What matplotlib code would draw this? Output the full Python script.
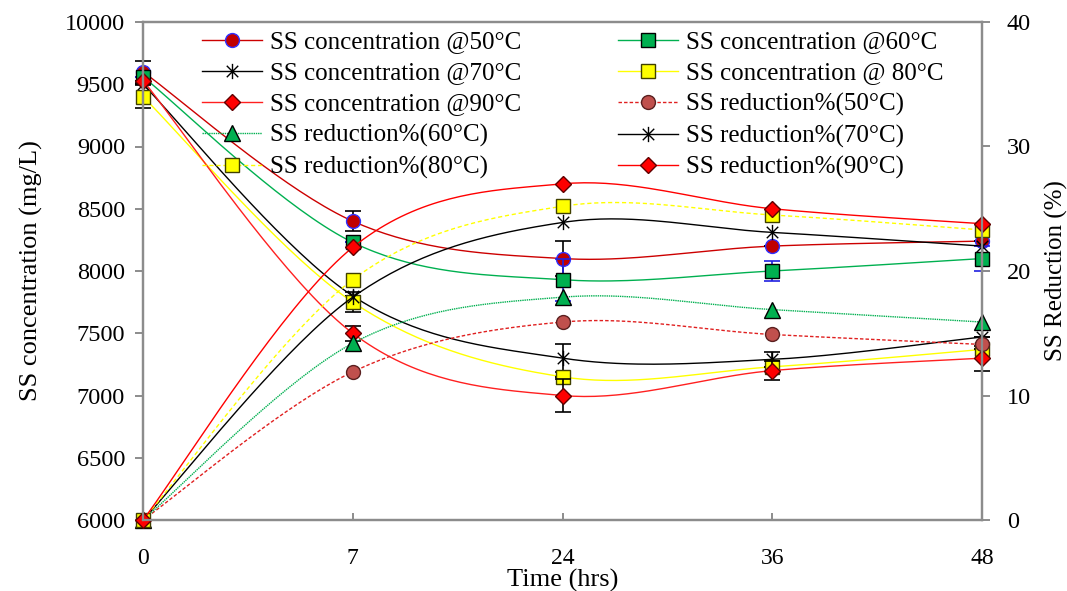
import numpy as np
import matplotlib
matplotlib.use('Agg')
import matplotlib.pyplot as plt
from matplotlib.path import Path
from matplotlib.lines import Line2D

plt.rcParams['font.family'] = ['Liberation Serif', 'DejaVu Serif']

# sampling times (plotted as evenly spaced categories)
time_labels = ['0', '7', '24', '36', '48']

# SS concentration (mg/L), left axis
conc_50 = [9600, 8400, 8100, 8200, 8240]
conc_60 = [9560, 8230, 7930, 8000, 8100]
conc_70 = [9500, 7800, 7300, 7290, 7470]
conc_80 = [9400, 7750, 7150, 7230, 7370]
conc_90 = [9530, 7500, 7000, 7200, 7300]

# error bars on the concentration series
err_50 = [90, 80, 140, 0, 0]
err_60 = [0, 0, 170, 80, 100]
err_70 = [0, 0, 115, 60, 0]
err_80 = [90, 80, 0, 0, 0]
err_90 = [0, 60, 130, 75, 100]

# SS reduction (%), right axis
red_50 = [0, 11.9, 15.9, 14.9, 14.1]
red_60 = [0, 14.2, 17.9, 16.9, 15.9]
red_70 = [0, 17.9, 23.9, 23.1, 22.0]
red_80 = [0, 19.3, 25.2, 24.5, 23.3]
red_90 = [0, 21.9, 27.0, 25.0, 23.8]


def smooth(y, n=40):
    # excel-like smoothed line (bezier through the points)
    y = np.asarray(y, float)
    x = np.arange(len(y), dtype=float)
    pts = np.column_stack([x, y])
    ext = np.vstack([pts[:1], pts, pts[-1:]])
    t = np.linspace(0, 1, n)[:, None]
    out = []
    for i in range(len(pts) - 1):
        p0 = pts[i]
        p3 = pts[i + 1]
        p1 = p0 + (ext[i + 2] - ext[i]) / 6.0
        p2 = p3 - (ext[i + 3] - ext[i + 1]) / 6.0
        seg = ((1 - t) ** 3) * p0 + 3 * ((1 - t) ** 2) * t * p1 + 3 * (1 - t) * t ** 2 * p2 + t ** 3 * p3
        out.append(seg if i == 0 else seg[1:])
    out = np.vstack(out)
    return out[:, 0], out[:, 1]


star = Path([(0, -1), (0, 1), (-0.75, -0.75), (0.75, 0.75), (-0.75, 0.75), (0.75, -0.75)],
            [Path.MOVETO, Path.LINETO, Path.MOVETO, Path.LINETO, Path.MOVETO, Path.LINETO])

fig = plt.figure(figsize=(10.67, 5.91), dpi=100)
ax = fig.add_axes([143 / 1067, 1 - 520 / 591, (982 - 143) / 1067, (520 - 22) / 591])
ax2 = ax.twinx()

xs = np.arange(len(time_labels))

conc_series = [
    ('SS concentration @50°C', conc_50, err_50, dict(color='#CC0000', ls='-', marker='o', mfc='#C00000', mec='#3030FF', ms=10), 'black'),
    ('SS concentration @60°C', conc_60, err_60, dict(color='#00B050', ls='-', marker='s', mfc='#00B050', mec='black', ms=10), '#2020E0'),
    ('SS concentration @70°C', conc_70, err_70, dict(color='black', ls='-', marker=star, mfc='none', mec='black', ms=11), 'black'),
    ('SS concentration @ 80°C', conc_80, err_80, dict(color='#FFFF00', ls='-', marker='s', mfc='#FFFF00', mec='#404000', ms=10), 'black'),
    ('SS concentration @90°C', conc_90, err_90, dict(color='#FF2020', ls='-', marker='D', mfc='#FF0000', mec='#600000', ms=8), 'black'),
]

red_series = [
    ('SS reduction%(50°C)', red_50, dict(color='#E02020', ls=(0, (2.5, 1.5)), marker='o', mfc='#C0504D', mec='#5a2020', ms=10)),
    ('SS reduction%(60°C)', red_60, dict(color='#00B050', ls=(0, (1, 0.6)), marker='^', mfc='#00B050', mec='black', ms=11)),
    ('SS reduction%(70°C)', red_70, dict(color='black', ls='-', marker=star, mfc='none', mec='black', ms=11)),
    ('SS reduction%(80°C)', red_80, dict(color='#FFFF00', ls=(0, (3, 2)), marker='s', mfc='#FFFF00', mec='#404000', ms=10)),
    ('SS reduction%(90°C)', red_90, dict(color='#FF0000', ls='-', marker='D', mfc='#FF0000', mec='#600000', ms=8)),
]

handles = {}
for label, vals, err, st, ecol in conc_series:
    sx, sy = smooth(vals)
    ax.plot(sx, sy, color=st['color'], ls=st['ls'], lw=1.0, clip_on=False)
    ax.errorbar(xs, vals, yerr=err, fmt='none', ecolor=ecol, elinewidth=1.2, capsize=6, capthick=1.2, clip_on=False)
    ax.plot(xs, vals, ls='none', marker=st['marker'], mfc=st['mfc'], mec=st['mec'], ms=st['ms'], mew=1, clip_on=False)
    handles[label] = Line2D([], [], lw=1.0, **st)

for label, vals, st in red_series:
    sx, sy = smooth(vals)
    ax2.plot(sx, sy, color=st['color'], ls=st['ls'], lw=1.0, clip_on=False)
    ax2.plot(xs, vals, ls='none', marker=st['marker'], mfc=st['mfc'], mec=st['mec'], ms=st['ms'], mew=1, clip_on=False)
    handles[label] = Line2D([], [], lw=1.0, **st)

ax.set_xlim(0, len(time_labels) - 1)
ax.set_ylim(6000, 10000)
ax.set_yticks(np.arange(6000, 10001, 500))
ax2.set_ylim(0, 40)
ax2.set_yticks([0, 10, 20, 30, 40])
ax.set_xticks(xs)
ax.set_xticklabels(time_labels)

grey = '#8c8c8c'
for a in (ax, ax2):
    for sp in a.spines.values():
        sp.set_color(grey)
        sp.set_linewidth(1.6)
ax.tick_params(axis='x', direction='in', length=5, width=1.4, color=grey, pad=20, labelsize=17)
ax.tick_params(axis='y', direction='out', length=6, width=1.4, color=grey, pad=7, labelsize=17.5)
ax2.tick_params(axis='y', direction='out', length=6, width=1.4, color=grey, pad=12, labelsize=17.5)

ax.set_xlabel('Time (hrs)', fontsize=19, labelpad=0)
ax.set_ylabel('SS concentration (mg/L)', fontsize=19, labelpad=16)
ax2.set_ylabel('SS Reduction (%)', fontsize=18, labelpad=10)

order = ['SS concentration @50°C', 'SS concentration @70°C', 'SS concentration @90°C',
         'SS reduction%(60°C)', 'SS reduction%(80°C)',
         'SS concentration @60°C', 'SS concentration @ 80°C', 'SS reduction%(50°C)',
         'SS reduction%(70°C)', 'SS reduction%(90°C)']
ax2.legend([handles[k] for k in order], order, ncol=2, loc='upper left',
           bbox_to_anchor=(202 / 1067, 1 - 31 / 591), bbox_transform=fig.transFigure,
           frameon=False, fontsize=18, handlelength=2.4, handletextpad=0.3,
           columnspacing=3.9, labelspacing=0.34, borderpad=0, borderaxespad=0)

fig.savefig('out.png', dpi=100)
